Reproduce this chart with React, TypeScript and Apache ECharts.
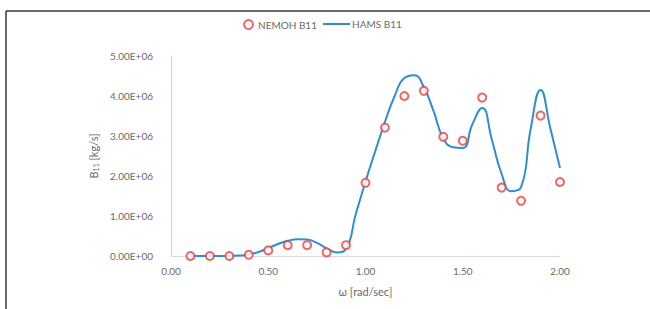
import React, { useEffect, useRef } from "react";
import * as echarts from "echarts";

const nemohOmega = [0.1, 0.2, 0.3, 0.4, 0.5, 0.6, 0.7, 0.8, 0.9, 1.0, 1.1, 1.2, 1.3, 1.4, 1.5, 1.6, 1.7, 1.8, 1.9, 2.0];
const nemohB11 = [0, 0, 0, 0.03e6, 0.14e6, 0.27e6, 0.27e6, 0.09e6, 0.27e6, 1.83e6, 3.21e6, 4.0e6, 4.13e6, 2.98e6, 2.88e6, 3.96e6, 1.71e6, 1.38e6, 3.51e6, 1.85e6];

const hamsOmega = [0.1, 0.15, 0.2, 0.25, 0.3, 0.35, 0.4, 0.45, 0.5, 0.55, 0.6, 0.65, 0.7, 0.75, 0.8, 0.85, 0.9, 0.95, 1.0, 1.05, 1.1, 1.15, 1.2, 1.25, 1.3, 1.35, 1.4, 1.45, 1.5, 1.55, 1.6, 1.65, 1.7, 1.75, 1.8, 1.85, 1.9, 1.95, 2.0];
const hamsB11 = [0, 0, 0, 0, 0, 0.01e6, 0.04e6, 0.1e6, 0.2e6, 0.3e6, 0.38e6, 0.42e6, 0.41e6, 0.33e6, 0.19e6, 0.09e6, 0.18e6, 1.05e6, 1.86e6, 2.62e6, 3.35e6, 4.0e6, 4.45e6, 4.52e6, 4.22e6, 3.62e6, 2.94e6, 2.72e6, 2.7e6, 3.3e6, 3.7e6, 2.9e6, 2.05e6, 1.62e6, 1.72e6, 3.2e6, 4.15e6, 3.2e6, 2.2e6];

const xTicks = { min: 0, max: 2, interval: 0.5 };
const yTicks = { min: 0, max: 5e6, interval: 1e6 };

function sci(v: number): string {
  if (v === 0) return "0.00E+00";
  const e = Math.floor(Math.log10(Math.abs(v)));
  const m = v / Math.pow(10, e);
  return m.toFixed(2) + "E+" + String(e).padStart(2, "0");
}

export default function App() {
  const ref = useRef<HTMLDivElement>(null);
  useEffect(() => {
    if (!ref.current) return;
    const chart = echarts.init(ref.current, undefined, { renderer: "svg" });
    const font = "Lato";
    const txt = "#6a6a6a";
    chart.setOption({
      animation: false,
      backgroundColor: "#ffffff",
      textStyle: { fontFamily: font },
      grid: { left: 171, right: 90, top: 56, bottom: 53 },
      legend: [
        {
          left: 238,
          top: 14,
          data: [{ name: "NEMOH B11", icon: "emptyCircle" }],
          itemWidth: 9,
          itemHeight: 9,
          itemGap: 8,
          textStyle: { color: txt, fontSize: 10, fontFamily: font },
        },
        {
          left: 318,
          top: 14,
          data: [{ name: "HAMS B11", icon: "path://M0,0 L27,0 L27,2 L0,2 Z" }],
          itemWidth: 27,
          itemHeight: 2,
          itemGap: 2,
          textStyle: { color: txt, fontSize: 10, fontFamily: font, padding: [0, 0, 0, -3] },
        },
      ],
      xAxis: {
        type: "value",
        min: xTicks.min,
        max: xTicks.max,
        interval: xTicks.interval,
        name: "ω [rad/sec]",
        nameLocation: "middle",
        nameGap: 30,
        nameTextStyle: { color: txt, fontSize: 11, fontFamily: font },
        axisLine: { show: true, lineStyle: { color: "#d9d9d9", width: 1 } },
        axisTick: { show: false },
        splitLine: { show: false },
        axisLabel: { color: txt, fontSize: 10, margin: 10, formatter: (v: number) => v.toFixed(2) },
      },
      yAxis: {
        type: "value",
        min: yTicks.min,
        max: yTicks.max,
        interval: yTicks.interval,
        name: "B{sub|11} [kg/s]",
        nameLocation: "middle",
        nameGap: 66,
        nameTextStyle: {
          color: txt,
          fontSize: 11,
          fontFamily: font,
          rich: { sub: { fontSize: 7, color: txt, fontFamily: font, padding: [5, 0, 0, 0] } },
        },
        axisLine: { show: true, lineStyle: { color: "#d0d0d0", width: 1 } },
        axisTick: { show: false },
        splitLine: { show: false },
        axisLabel: { color: txt, fontSize: 10, margin: 18, formatter: (v: number) => sci(v) },
      },
      graphic: [
        { type: "line", shape: { x1: 6, y1: 11, x2: 650, y2: 11 }, style: { stroke: "#3a3a3a", lineWidth: 1.5 } },
        { type: "line", shape: { x1: 6, y1: 11, x2: 6, y2: 309 }, style: { stroke: "#3a3a3a", lineWidth: 1.5 } },
      ],
      series: [
        {
          name: "HAMS B11",
          type: "line",
          data: hamsOmega.map((x, i) => [x, hamsB11[i]]),
          smooth: 0.5,
          symbol: "none",
          lineStyle: { color: "#2f8ed3", width: 2 },
          itemStyle: { color: "#2f8ed3" },
          z: 2,
        },
        {
          name: "NEMOH B11",
          type: "scatter",
          data: nemohOmega.map((x, i) => [x, nemohB11[i]]),
          symbol: "emptyCircle",
          symbolSize: 8,
          itemStyle: { color: "#e8413c", borderColor: "#e8413c", borderWidth: 1.6 },
          z: 3,
        },
      ],
    });
    return () => chart.dispose();
  }, []);
  return <div ref={ref} style={{ position: "absolute", left: 0, top: 0, width: 650, height: 309 }} />;
}
